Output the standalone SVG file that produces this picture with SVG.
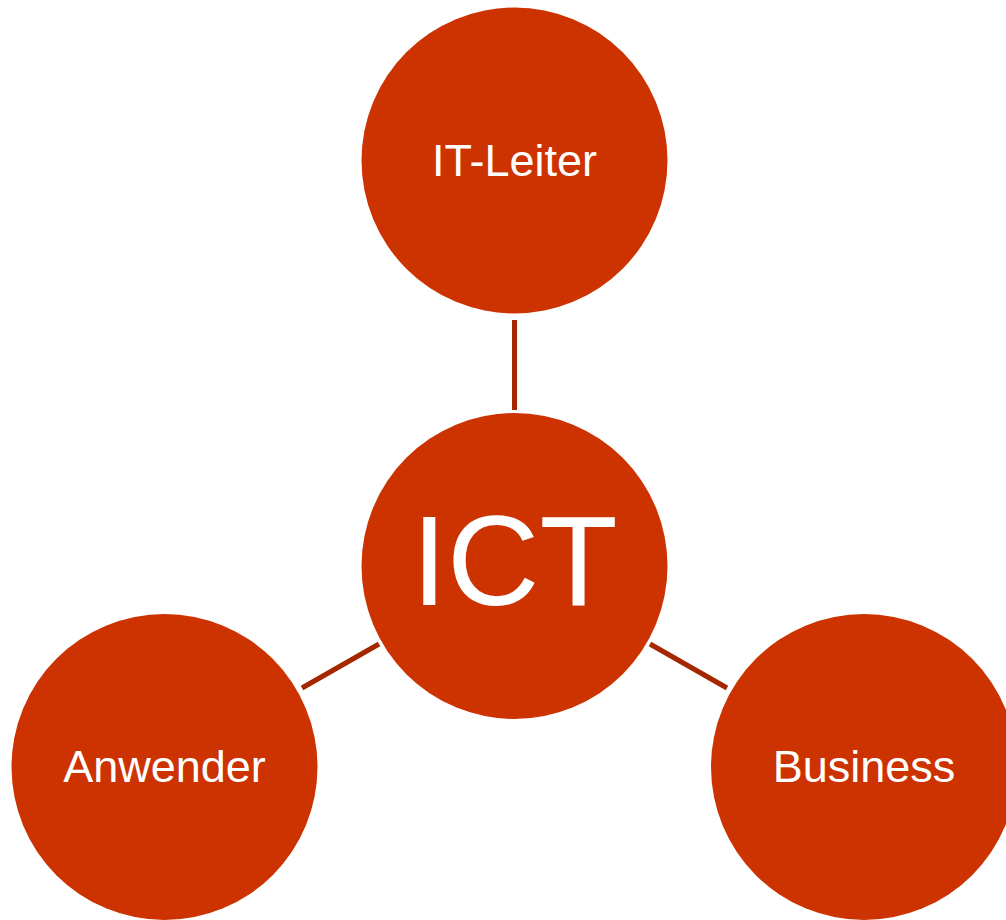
<svg xmlns="http://www.w3.org/2000/svg" width="1006" height="920" viewBox="0 0 1006 920">
<style>
.node{fill:#CC3300}
.lbl{fill:#FFFFFF;font-family:"Liberation Sans",Arial,sans-serif;text-anchor:middle}
.edge{stroke:#A52700;stroke-width:5;fill:none}
</style>
<rect width="1006" height="920" fill="#FFFFFF"/>
<g id="connectors">
<line class="edge" x1="514.5" y1="320" x2="514.5" y2="410"/>
<line class="edge" x1="302" y1="688" x2="379" y2="644"/>
<line class="edge" x1="650" y1="644" x2="727" y2="688"/>
</g>
<g id="node-it-leiter">
<circle class="node" cx="514.5" cy="160.5" r="153"/>
<text class="lbl" x="514.5" y="176" font-size="45">IT-Leiter</text>
</g>
<g id="node-ict">
<circle class="node" cx="514.5" cy="566" r="153"/>
<text class="lbl" x="514.5" y="605" font-size="128">ICT</text>
</g>
<g id="node-anwender">
<circle class="node" cx="164.5" cy="767" r="153"/>
<text class="lbl" x="164.5" y="782" font-size="45">Anwender</text>
</g>
<g id="node-business">
<circle class="node" cx="864" cy="767" r="153"/>
<text class="lbl" x="864" y="782" font-size="45">Business</text>
</g>
</svg>
